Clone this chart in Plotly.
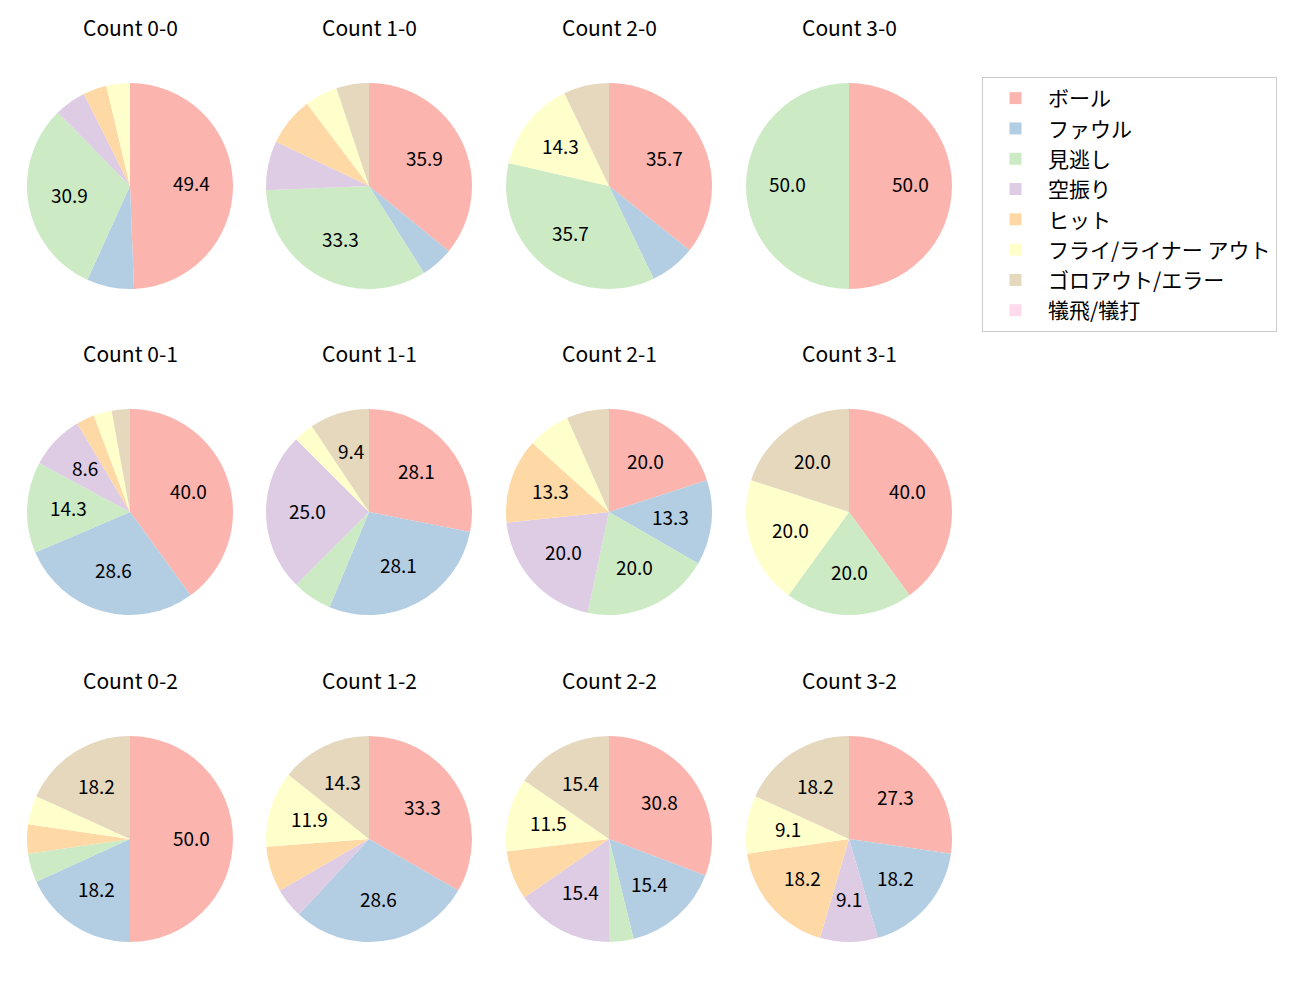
import math
import plotly.graph_objects as go

labels = ["ボール", "ファウル", "見逃し", "空振り", "ヒット", "フライ/ライナー アウト", "ゴロアウト/エラー", "犠飛/犠打"]
colors = ["#fbb4ae", "#b3cde3", "#ccebc5", "#decbe4", "#fed9a6", "#ffffcc", "#e5d8bd", "#fddaec"]

titles = ["Count 0-0", "Count 1-0", "Count 2-0", "Count 3-0",
          "Count 0-1", "Count 1-1", "Count 2-1", "Count 3-1",
          "Count 0-2", "Count 1-2", "Count 2-2", "Count 3-2"]

counts = [
    [40, 6, 25, 4, 3, 3, 0, 0],    # 0-0
    [14, 2, 13, 3, 3, 2, 2, 0],    # 1-0
    [5, 1, 5, 0, 0, 2, 1, 0],      # 2-0
    [1, 0, 1, 0, 0, 0, 0, 0],      # 3-0
    [14, 10, 5, 3, 1, 1, 1, 0],    # 0-1
    [9, 9, 2, 8, 0, 1, 3, 0],      # 1-1
    [3, 2, 3, 3, 2, 1, 1, 0],      # 2-1
    [2, 0, 1, 0, 0, 1, 1, 0],      # 3-1
    [11, 4, 1, 0, 1, 1, 4, 0],     # 0-2
    [14, 12, 0, 2, 3, 5, 6, 0],    # 1-2
    [8, 4, 1, 4, 2, 3, 4, 0],      # 2-2
    [3, 2, 0, 1, 2, 1, 2, 0],      # 3-2
]

W, H = 1300, 1000
OFF = 8  # page body margin
col_cx = [130 - OFF, 369 - OFF, 609 - OFF, 849 - OFF]
row_cy = [186 - OFF, 512 - OFF, 839 - OFF]
R = 103
FONT = "Noto Sans CJK JP"

fig = go.Figure()
for i, (t, c) in enumerate(zip(titles, counts)):
    r, k = divmod(i, 4)
    cx, cy = col_cx[k], row_cy[r]
    tot = sum(c)
    fig.add_trace(go.Pie(
        labels=labels, values=c, textinfo="none",
        marker=dict(colors=colors, line=dict(width=0)),
        sort=False, direction="clockwise", rotation=0,
        domain=dict(x=[(cx - R) / W, (cx + R) / W], y=[1 - (cy + R) / H, 1 - (cy - R) / H]),
        showlegend=(i == 0), hoverinfo="label+percent",
    ))
    # percentage labels at 0.6 radius, mid-angle of each slice (clockwise from 12 o'clock)
    cum = 0.0
    for v in c:
        pct = v / tot * 100
        if v > 0 and pct >= 8:
            mid = (cum + v / 2) / tot * 2 * math.pi
            x = cx + 0.6 * R * math.sin(mid)
            y = cy - 0.6 * R * math.cos(mid)
            fig.add_annotation(x=x / W, y=1 - y / H, xref="paper", yref="paper",
                               text=f"{pct:.1f}", showarrow=False, yshift=2,
                               font=dict(size=19, color="black", family=FONT),
                               xanchor="center", yanchor="middle")
        cum += v
    fig.add_annotation(x=cx / W, y=1 - (cy - 158) / H, xref="paper", yref="paper",
                       text=t, showarrow=False, yshift=1,
                       font=dict(size=21, color="black", family=FONT),
                       xanchor="center", yanchor="middle")

fig.update_layout(
    width=W, height=H, margin=dict(l=0, r=0, t=0, b=0),
    paper_bgcolor="white", plot_bgcolor="white",
    font=dict(family=FONT, color="black"),
    legend=dict(x=(982 - OFF) / W, y=1 - (77 - OFF) / H, xanchor="left", yanchor="top",
                bordercolor="#cccccc", borderwidth=1, font=dict(size=21, family=FONT),
                traceorder="normal", itemwidth=55),
)
fig.write_html("out.html")
